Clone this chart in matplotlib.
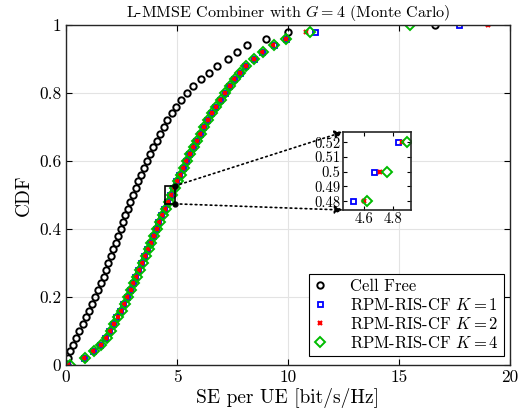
#!/usr/bin/env python3

import matplotlib
matplotlib.use("Agg")
import matplotlib.pyplot as plt
from matplotlib.patches import Rectangle, ConnectionPatch
from matplotlib.ticker import FuncFormatter

# CDF levels of the plotted markers
cdf_levels = [
    0.00, 0.02, 0.04, 0.06, 0.08, 0.10, 0.12, 0.14, 0.16, 0.18,
    0.20, 0.22, 0.24, 0.26, 0.28, 0.30, 0.32, 0.34, 0.36, 0.38,
    0.40, 0.42, 0.44, 0.46, 0.48, 0.50, 0.52, 0.54, 0.56, 0.58,
    0.60, 0.62, 0.64, 0.66, 0.68, 0.70, 0.72, 0.74, 0.76, 0.78,
    0.80, 0.82, 0.84, 0.86, 0.88, 0.90, 0.92, 0.94, 0.96, 0.98,
    1.00,
]

# SE per UE [bit/s/Hz] at each CDF level
se_cell_free = [
    0.03, 0.10, 0.20, 0.30, 0.45, 0.60, 0.75, 0.90, 1.04, 1.18,
    1.32, 1.45, 1.57, 1.69, 1.80, 1.91, 2.02, 2.13, 2.24, 2.35,
    2.46, 2.57, 2.68, 2.79, 2.90, 3.02, 3.14, 3.26, 3.38, 3.51,
    3.65, 3.79, 3.93, 4.08, 4.23, 4.40, 4.57, 4.76, 4.97, 5.20,
    5.45, 5.74, 6.06, 6.42, 6.82, 7.30, 7.72, 8.15, 9.00, 10.00,
    16.60,
]
se_k1 = [
    0.05, 0.80, 1.20, 1.53, 1.76, 1.95, 2.10, 2.27, 2.42, 2.58,
    2.73, 2.87, 3.00, 3.13, 3.26, 3.39, 3.52, 3.65, 3.78, 3.91,
    4.04, 4.16, 4.28, 4.40, 4.53, 4.67, 4.83, 4.97, 5.11, 5.26,
    5.40, 5.55, 5.70, 5.86, 6.02, 6.19, 6.36, 6.54, 6.73, 6.93,
    7.14, 7.36, 7.58, 7.82, 8.08, 8.45, 8.85, 9.35, 9.90, 11.20,
    17.70,
]
se_k2 = [
    0.08, 0.82, 1.22, 1.57, 1.82, 2.00, 2.15, 2.32, 2.47, 2.62,
    2.77, 2.91, 3.04, 3.17, 3.30, 3.43, 3.56, 3.69, 3.82, 3.95,
    4.08, 4.20, 4.33, 4.46, 4.60, 4.71, 4.86, 5.00, 5.14, 5.28,
    5.42, 5.57, 5.72, 5.88, 6.04, 6.21, 6.38, 6.56, 6.75, 6.95,
    7.16, 7.37, 7.59, 7.83, 8.10, 8.45, 8.83, 9.33, 9.90, 10.80,
    19.00,
]
se_k4 = [
    0.20, 0.85, 1.25, 1.58, 1.84, 2.02, 2.18, 2.35, 2.50, 2.65,
    2.80, 2.94, 3.07, 3.20, 3.33, 3.46, 3.59, 3.72, 3.85, 3.98,
    4.11, 4.24, 4.37, 4.49, 4.62, 4.76, 4.89, 5.03, 5.17, 5.31,
    5.45, 5.60, 5.75, 5.90, 6.06, 6.23, 6.40, 6.58, 6.77, 6.97,
    7.17, 7.38, 7.60, 7.84, 8.12, 8.48, 8.88, 9.38, 9.92, 11.00,
    15.50,
]

x_ticks = [0, 5, 10, 15, 20]
y_ticks = [0, 0.2, 0.4, 0.6, 0.8, 1]

# zoomed region
zoom_x = (4.46, 4.92)
zoom_y = (0.474, 0.527)
zoom_x_ticks = [4.6, 4.8]
zoom_y_ticks = [0.48, 0.49, 0.50, 0.51, 0.52]

W, H = 519, 416


def fmt_g(v, _pos):
    """Tick label without trailing zeros, MATLAB style."""
    return f"{v:g}"


def draw_series(ax) -> None:
    """Draws the four CDF series on the given axes."""
    ax.plot(se_cell_free, cdf_levels, "o", ls="none", mfc="none",
            mec="black", ms=4.6, mew=1.4, label="Cell Free")
    ax.plot(se_k1, cdf_levels, "s", ls="none", mfc="none",
            mec="#0000ff", ms=3.6, mew=1.3, label="RPM-RIS-CF $K = 1$")
    ax.plot(se_k2, cdf_levels, "x", ls="none", color="#ff0000",
            ms=3.2, mew=1.6, label="RPM-RIS-CF $K = 2$")
    ax.plot(se_k4, cdf_levels, "D", ls="none", mfc="none",
            mec="#00bb00", ms=4.6, mew=1.4, label="RPM-RIS-CF $K = 4$")


def ft_main() -> None:
    plt.rcParams["font.family"] = ["cmr10", "DejaVu Serif"]
    plt.rcParams["mathtext.fontset"] = "cm"
    plt.rcParams["axes.formatter.use_mathtext"] = True

    fig = plt.figure(figsize=(W / 100, H / 100), dpi=100)
    ax = fig.add_axes([66 / W, 1 - 365 / H, 444 / W, 340 / H])

    draw_series(ax)

    ax.set_xlim(0, 20)
    ax.set_ylim(0, 1)
    ax.set_xticks(x_ticks)
    ax.set_yticks(y_ticks)
    ax.xaxis.set_major_formatter(FuncFormatter(fmt_g))
    ax.yaxis.set_major_formatter(FuncFormatter(fmt_g))
    ax.tick_params(direction="in", top=True, right=True, labelsize=12.5,
                   length=4, width=0.8)
    ax.grid(True, color="#e3e3e3", lw=0.8)
    ax.set_axisbelow(True)
    for sp in ax.spines.values():
        sp.set_linewidth(1.0)
        sp.set_color("#262626")

    ax.set_title("L-MMSE Combiner with $G = 4$ (Monte Carlo)",
                 fontsize=11.5, pad=6)
    ax.set_xlabel("SE per UE [bit/s/Hz]", fontsize=14, labelpad=2)
    ax.set_ylabel("CDF", fontsize=14, labelpad=4)

    leg = ax.legend(loc="lower right", fontsize=12,
                    bbox_to_anchor=(504 / W, 1 - 356 / H),
                    bbox_transform=fig.transFigure, borderaxespad=0,
                    fancybox=False, edgecolor="black", framealpha=1,
                    numpoints=1, handlelength=0.8, handletextpad=1.4,
                    labelspacing=0.18, borderpad=0.3)
    leg.get_frame().set_linewidth(0.8)

    # zoom rectangle on the main axes
    rect = Rectangle((zoom_x[0], zoom_y[0]), zoom_x[1] - zoom_x[0],
                     zoom_y[1] - zoom_y[0], fill=False, ec="black",
                     lw=1.2, zorder=5)
    ax.add_patch(rect)
    ax.plot([zoom_x[1], zoom_x[1]], [zoom_y[1], zoom_y[0]], "o",
            ls="none", color="black", ms=3.5, zorder=6)

    # inset axes
    axi = fig.add_axes([343 / W, 1 - 210 / H, 68 / W, 78 / H])
    draw_series(axi)
    axi.set_xlim(*zoom_x)
    axi.set_ylim(*zoom_y)
    axi.set_xticks(zoom_x_ticks)
    axi.set_yticks(zoom_y_ticks)
    axi.xaxis.set_major_formatter(FuncFormatter(fmt_g))
    axi.yaxis.set_major_formatter(FuncFormatter(fmt_g))
    axi.tick_params(direction="in", top=True, right=True, labelsize=10.5,
                    length=3, width=0.8, pad=2)
    for sp in axi.spines.values():
        sp.set_linewidth(1.2)
        sp.set_color("#262626")

    # dotted connectors with arrowheads
    for ya, yb in ((zoom_y[1], 1), (zoom_y[0], 0)):
        con = ConnectionPatch(xyA=(zoom_x[1], ya), coordsA=ax.transData,
                              xyB=(0, yb), coordsB=axi.transAxes,
                              arrowstyle="-|>", linestyle=(0, (1, 2)),
                              color="black", lw=1.2, mutation_scale=12,
                              zorder=7)
        fig.add_artist(con)

    fig.savefig("out.png", dpi=100)


if __name__ == "__main__":
    ft_main()
